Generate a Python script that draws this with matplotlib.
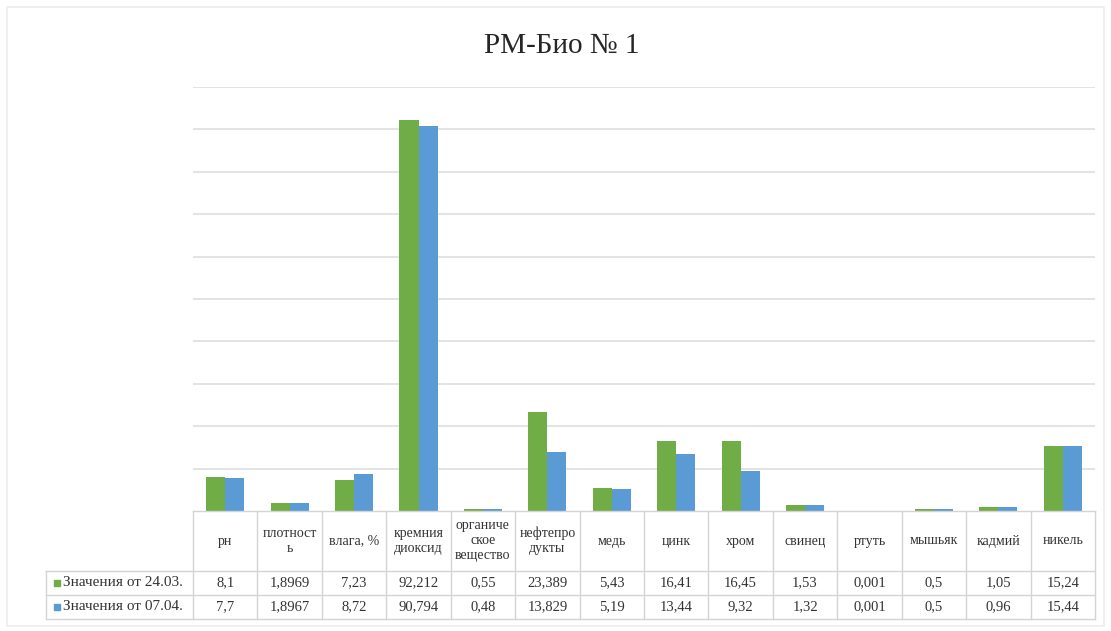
import numpy as np
import matplotlib.pyplot as plt
from matplotlib.patches import Rectangle

# data
categories = ['рн', 'плотност\nь', 'влага, %', 'кремния\nдиоксид', 'органиче\nское\nвещество',
              'нефтепро\nдукты', 'медь', 'цинк', 'хром', 'свинец', 'ртуть', 'мышьяк',
              'кадмий', 'никель']
series_names = ['Значения от 24.03.', 'Значения от 07.04.']
vals_2403 = [8.1, 1.8969, 7.23, 92.212, 0.55, 23.389, 5.43, 16.41, 16.45, 1.53, 0.001, 0.5, 1.05, 15.24]
vals_0704 = [7.7, 1.8967, 8.72, 90.794, 0.48, 13.829, 5.19, 13.44, 9.32, 1.32, 0.001, 0.5, 0.96, 15.44]
colors = ['#70AD47', '#5B9BD5']

W, H = 1111, 631
fig = plt.figure(figsize=(W / 100, H / 100), dpi=100)
plt.rcParams['font.family'] = ['Liberation Serif', 'DejaVu Serif']

# plot area in pixels
x0, x1 = 193, 1095
ytop, ybase = 87, 511
ax = fig.add_axes([x0 / W, (H - ybase) / H, (x1 - x0) / W, (ybase - ytop) / H])
n = len(categories)
idx = np.arange(n)
bw = 0.295
ax.bar(idx - bw / 2, vals_2403, bw, color=colors[0], zorder=3)
ax.bar(idx + bw / 2, vals_0704, bw, color=colors[1], zorder=3)
ax.set_xlim(-0.5, n - 0.5)
ax.set_ylim(0, 100)
ax.set_yticks(np.arange(10, 101, 10))
ax.yaxis.grid(True, color='#DEDEDE', lw=1.2)
ax.set_axisbelow(True)
ax.tick_params(left=False, bottom=False, labelleft=False, labelbottom=False)
for s in ax.spines.values():
    s.set_visible(False)

# overlay for title, frame and data table (pixel coords)
ov = fig.add_axes([0, 0, 1, 1], zorder=5)
ov.set_xlim(0, W)
ov.set_ylim(H, 0)
ov.axis('off')
ov.patch.set_alpha(0)

ov.add_patch(Rectangle((7, 7), W - 14, H - 12, fill=False, ec='#EEEEEE', lw=1.2))
ov.text(562, 46, 'РМ-Био № 1', ha='center', va='center', fontsize=21, color='#262626')

lc = '#D4D4D4'
tc = '#333333'
cw = (x1 - x0) / n
r0, r1, r2, r3 = 511, 571, 595, 619
lab_left = 46

ov.plot([x0, x1], [r0, r0], color=lc, lw=1)
for y in (r1, r2, r3):
    ov.plot([lab_left, x1], [y, y], color=lc, lw=1)
ov.plot([lab_left, lab_left], [r1, r3], color=lc, lw=1)
for i in range(n + 1):
    ov.plot([x0 + i * cw] * 2, [r0, r3], color=lc, lw=1)


def fmt(v):
    return ('%g' % v).replace('.', ',')


for i, cat in enumerate(categories):
    cx = x0 + (i + 0.5) * cw
    ov.text(cx, (r0 + r1) / 2, cat, ha='center', va='center', fontsize=10,
            color=tc, linespacing=1.2)
    ov.text(cx, (r1 + r2) / 2, fmt(vals_2403[i]), ha='center', va='center', fontsize=10.5, color=tc)
    ov.text(cx, (r2 + r3) / 2, fmt(vals_0704[i]), ha='center', va='center', fontsize=10.5, color=tc)

for j, (name, c) in enumerate(zip(series_names, colors)):
    yc = (r1 + r2) / 2 if j == 0 else (r2 + r3) / 2
    ov.add_patch(Rectangle((54, yc - 3), 6, 6, color=c))
    ov.text(63, yc, name, ha='left', va='center', fontsize=11, color=tc)

fig.savefig('out.png', dpi=100, facecolor='white')
